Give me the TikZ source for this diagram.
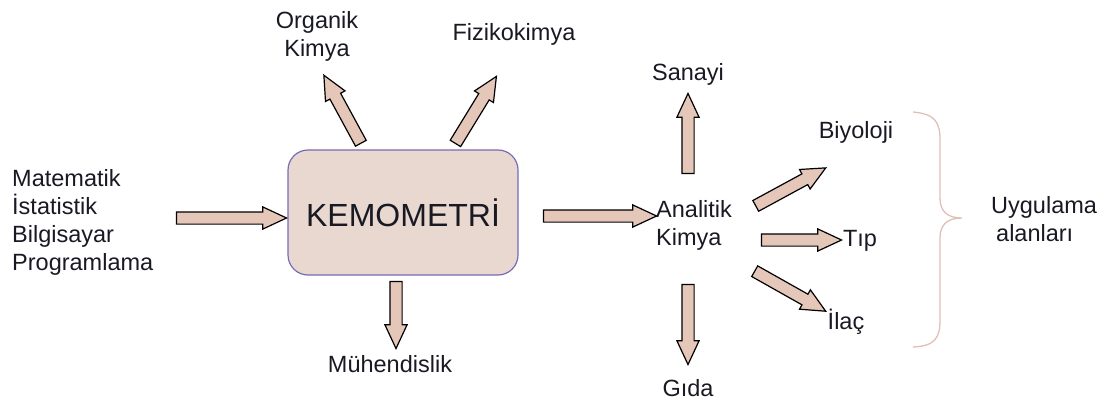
\documentclass[tikz,border=0pt]{standalone}
\usepackage{fontspec}
\setmainfont{Liberation Sans}
\usetikzlibrary{shapes.arrows,calc}
\definecolor{arrowfill}{RGB}{229,199,186}
\definecolor{boxfill}{RGB}{233,216,208}
\definecolor{boxline}{RGB}{118,108,182}
\definecolor{bracecol}{RGB}{222,192,180}
\definecolor{txt}{RGB}{25,25,35}
\tikzset{
  blockarrow/.style={single arrow, draw=black, line width=1.2pt, fill=arrowfill,
    inner sep=5.5pt, minimum width=22pt, single arrow head extend=5pt,
    single arrow tip angle=50, outer sep=0pt, anchor=center},
  lbl/.style={text=txt, font=\fontsize{23.5}{28}\selectfont, inner sep=0pt},
  mainbox/.style={draw=boxline, line width=1.2pt, fill=boxfill, rounded corners=20pt,
    minimum width=230pt, minimum height=125pt, text=txt,
    font=\fontsize{32}{38}\selectfont, inner sep=0pt}
}
\newcommand{\barrow}[2]{%
  \path let \p1=($(#2)-(#1)$), \n1={atan2(\y1,\x1)}, \n2={veclen(\x1,\y1)} in
    node[blockarrow, rotate=\n1, minimum height=\n2] at ($(#1)!0.5!(#2)$) {};}
\begin{document}
\begin{tikzpicture}[x=1pt,y=-1pt]
\useasboundingbox (0,0) rectangle (1106,401);
% main box
\node[mainbox] (kemo) at (403,212.5) {KEMOMETRİ};
% labels
\node[lbl, align=left, anchor=west] (inputs) at (12,222) {Matematik\\İstatistik\\Bilgisayar\\Programlama};
\node[lbl, align=center] (organik) at (317,36) {Organik\\Kimya};
\node[lbl] (fiziko) at (514,34) {Fizikokimya};
\node[lbl] (muh) at (390,364) {Mühendislik};
\node[lbl, align=left, anchor=west] (analitik) at (656,225) {Analitik\\Kimya};
\node[lbl] (sanayi) at (688,74) {Sanayi};
\node[lbl] (biyo) at (856,132) {Biyoloji};
\node[lbl] (tip) at (860,241) {Tıp};
\node[lbl] (ilac) at (846,322) {İlaç};
\node[lbl] (gida) at (688,388) {Gıda};
\node[lbl, align=left, anchor=west] (uyg) at (991,219) {Uygulama\\\hspace{5pt}alanları};
% arrow end coordinates
\coordinate (a1s) at (170,218);  \coordinate (a1e) at (280,218);
\coordinate (a2s) at (537,216);  \coordinate (a2e) at (650,216);
\coordinate (a3s) at (364,149);  \coordinate (a3e) at (327,81);
\coordinate (a4s) at (452,149);  \coordinate (a4e) at (493,82);
\coordinate (a5s) at (396,275);  \coordinate (a5e) at (396,342);
\coordinate (a6s) at (688,180);  \coordinate (a6e) at (688,100);
\coordinate (a7s) at (688,278);  \coordinate (a7e) at (688,358);
\coordinate (a8s) at (750,209);  \coordinate (a8e) at (820,171);
\coordinate (a9s) at (755,240);  \coordinate (a9e) at (835,240);
\coordinate (a10s) at (749,268); \coordinate (a10e) at (820,308);
\barrow{a1s}{a1e}
\barrow{a2s}{a2e}
\barrow{a3s}{a3e}
\barrow{a4s}{a4e}
\barrow{a5s}{a5e}
\barrow{a6s}{a6e}
\barrow{a7s}{a7e}
\barrow{a8s}{a8e}
\barrow{a9s}{a9e}
\barrow{a10s}{a10e}
% brace
\coordinate (brtop) at (913,112);
\coordinate (brmid) at (962,218);
\coordinate (brbot) at (913,347);
\draw[bracecol, line width=1.3pt]
  (brtop) .. controls (935,114) and (940,122) .. (940,140)
  -- (940,198) .. controls (940,212) and (948,218) .. (brmid)
  .. controls (948,218) and (940,224) .. (940,238)
  -- (940,320) .. controls (940,338) and (935,346) .. (brbot);
\end{tikzpicture}
\end{document}
